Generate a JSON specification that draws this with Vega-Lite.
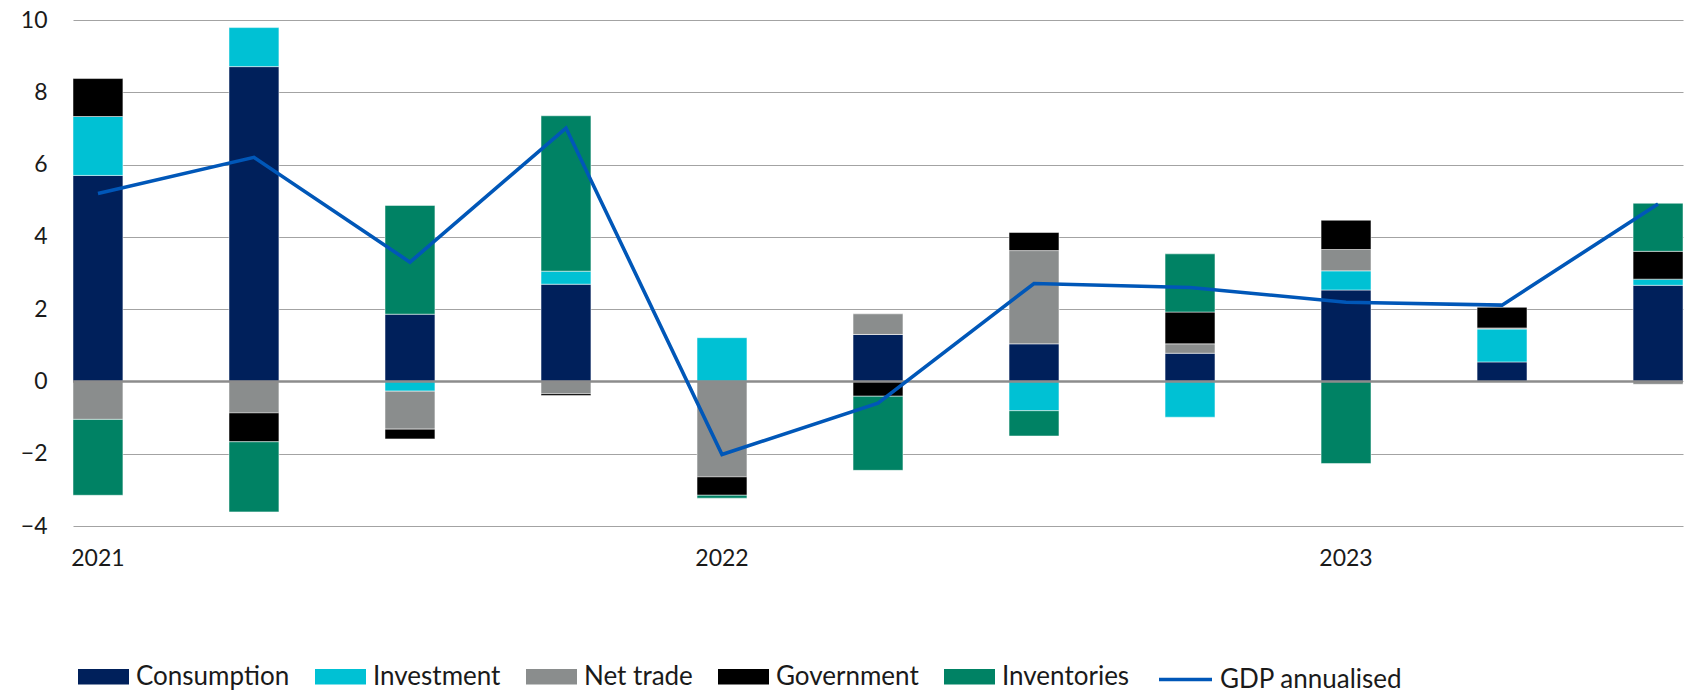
{
  "$schema": "https://vega.github.io/schema/vega-lite/v6.json",
  "autosize": {"type": "none"},
  "padding": {"left": 73, "top": 20, "right": 8, "bottom": 168},
  "width": 1610,
  "height": 506,
  "background": "white",
  "config": {
    "font": "Lato",
    "view": {"stroke": null},
    "axis": {"labelFont": "Lato", "labelColor": "#1a1a1a", "labelFontSize": 23},
    "legend": {"labelFont": "Lato", "labelColor": "#1a1a1a", "labelFontSize": 26}
  },
  "datasets": {
    "parts": [
      {"q": "2021 Q1", "component": "Consumption", "ord": 1, "value": 5.70},
      {"q": "2021 Q1", "component": "Investment", "ord": 2, "value": 1.63},
      {"q": "2021 Q1", "component": "Net trade", "ord": 3, "value": -1.05},
      {"q": "2021 Q1", "component": "Government", "ord": 4, "value": 1.05},
      {"q": "2021 Q1", "component": "Inventories", "ord": 5, "value": -2.10},
      {"q": "2021 Q2", "component": "Consumption", "ord": 1, "value": 8.71},
      {"q": "2021 Q2", "component": "Investment", "ord": 2, "value": 1.08},
      {"q": "2021 Q2", "component": "Net trade", "ord": 3, "value": -0.87},
      {"q": "2021 Q2", "component": "Government", "ord": 4, "value": -0.80},
      {"q": "2021 Q2", "component": "Inventories", "ord": 5, "value": -1.94},
      {"q": "2021 Q3", "component": "Consumption", "ord": 1, "value": 1.86},
      {"q": "2021 Q3", "component": "Investment", "ord": 2, "value": -0.27},
      {"q": "2021 Q3", "component": "Net trade", "ord": 3, "value": -1.05},
      {"q": "2021 Q3", "component": "Government", "ord": 4, "value": -0.27},
      {"q": "2021 Q3", "component": "Inventories", "ord": 5, "value": 3.01},
      {"q": "2021 Q4", "component": "Consumption", "ord": 1, "value": 2.69},
      {"q": "2021 Q4", "component": "Investment", "ord": 2, "value": 0.36},
      {"q": "2021 Q4", "component": "Net trade", "ord": 3, "value": -0.34},
      {"q": "2021 Q4", "component": "Government", "ord": 4, "value": -0.05},
      {"q": "2021 Q4", "component": "Inventories", "ord": 5, "value": 4.30},
      {"q": "2022 Q1", "component": "Consumption", "ord": 1, "value": 0.0},
      {"q": "2022 Q1", "component": "Investment", "ord": 2, "value": 1.21},
      {"q": "2022 Q1", "component": "Net trade", "ord": 3, "value": -2.64},
      {"q": "2022 Q1", "component": "Government", "ord": 4, "value": -0.51},
      {"q": "2022 Q1", "component": "Inventories", "ord": 5, "value": -0.08},
      {"q": "2022 Q2", "component": "Consumption", "ord": 1, "value": 1.30},
      {"q": "2022 Q2", "component": "Investment", "ord": 2, "value": 0.0},
      {"q": "2022 Q2", "component": "Net trade", "ord": 3, "value": 0.57},
      {"q": "2022 Q2", "component": "Government", "ord": 4, "value": -0.41},
      {"q": "2022 Q2", "component": "Inventories", "ord": 5, "value": -2.05},
      {"q": "2022 Q3", "component": "Consumption", "ord": 1, "value": 1.04},
      {"q": "2022 Q3", "component": "Investment", "ord": 2, "value": -0.81},
      {"q": "2022 Q3", "component": "Net trade", "ord": 3, "value": 2.58},
      {"q": "2022 Q3", "component": "Government", "ord": 4, "value": 0.50},
      {"q": "2022 Q3", "component": "Inventories", "ord": 5, "value": -0.70},
      {"q": "2022 Q4", "component": "Consumption", "ord": 1, "value": 0.78},
      {"q": "2022 Q4", "component": "Investment", "ord": 2, "value": -0.99},
      {"q": "2022 Q4", "component": "Net trade", "ord": 3, "value": 0.26},
      {"q": "2022 Q4", "component": "Government", "ord": 4, "value": 0.88},
      {"q": "2022 Q4", "component": "Inventories", "ord": 5, "value": 1.61},
      {"q": "2023 Q1", "component": "Consumption", "ord": 1, "value": 2.53},
      {"q": "2023 Q1", "component": "Investment", "ord": 2, "value": 0.53},
      {"q": "2023 Q1", "component": "Net trade", "ord": 3, "value": 0.59},
      {"q": "2023 Q1", "component": "Government", "ord": 4, "value": 0.81},
      {"q": "2023 Q1", "component": "Inventories", "ord": 5, "value": -2.27},
      {"q": "2023 Q2", "component": "Consumption", "ord": 1, "value": 0.54},
      {"q": "2023 Q2", "component": "Investment", "ord": 2, "value": 0.91},
      {"q": "2023 Q2", "component": "Net trade", "ord": 3, "value": 0.03},
      {"q": "2023 Q2", "component": "Government", "ord": 4, "value": 0.58},
      {"q": "2023 Q2", "component": "Inventories", "ord": 5, "value": 0.0},
      {"q": "2023 Q3", "component": "Consumption", "ord": 1, "value": 2.66},
      {"q": "2023 Q3", "component": "Investment", "ord": 2, "value": 0.17},
      {"q": "2023 Q3", "component": "Net trade", "ord": 3, "value": -0.08},
      {"q": "2023 Q3", "component": "Government", "ord": 4, "value": 0.77},
      {"q": "2023 Q3", "component": "Inventories", "ord": 5, "value": 1.33}
    ],
    "gdp": [
      {"q": "2021 Q1", "gdp": 5.20},
      {"q": "2021 Q2", "gdp": 6.20},
      {"q": "2021 Q3", "gdp": 3.30},
      {"q": "2021 Q4", "gdp": 7.01},
      {"q": "2022 Q1", "gdp": -2.02},
      {"q": "2022 Q2", "gdp": -0.60},
      {"q": "2022 Q3", "gdp": 2.71},
      {"q": "2022 Q4", "gdp": 2.60},
      {"q": "2023 Q1", "gdp": 2.19},
      {"q": "2023 Q2", "gdp": 2.11},
      {"q": "2023 Q3", "gdp": 4.91}
    ]
  },
  "layer": [
    {
      "data": {"name": "parts"},
      "mark": {"type": "bar", "stroke": "#ffffff", "strokeWidth": 0.7, "strokeOpacity": 0.7},
      "encoding": {
        "x": {
          "field": "q", "type": "ordinal", "sort": null,
          "scale": {"paddingInner": 0.68, "paddingOuter": 0},
          "axis": {
            "title": null, "domain": false, "ticks": false, "grid": false,
            "labelAngle": 0, "labelPadding": 21,
            "labelExpr": "slice(datum.label, 5) == 'Q1' ? slice(datum.label, 0, 4) : ''"
          }
        },
        "y": {
          "field": "value", "type": "quantitative", "stack": "zero",
          "scale": {"domain": [-4, 10], "nice": false, "zero": false},
          "axis": {
            "title": null, "values": [-4, -2, 0, 2, 4, 6, 8, 10],
            "domain": false, "ticks": false, "labelPadding": 26,
            "grid": true, "gridColor": "#a3a3a3", "gridWidth": 1.2
          }
        },
        "color": {
          "field": "component", "type": "nominal",
          "scale": {
            "domain": ["Consumption", "Investment", "Net trade", "Government", "Inventories"],
            "range": ["#00205b", "#00c1d4", "#8a8d8d", "#000000", "#008264"]
          },
          "legend": {
            "title": null, "orient": "none", "direction": "horizontal",
            "legendX": 5, "legendY": 631,
            "symbolType": "M-1,-0.3H1V0.3H-1Z", "symbolSize": 2601,
            "symbolStrokeWidth": 0, "symbolOpacity": 1,
            "labelOffset": 7, "columnPadding": 25, "labelLimit": 400
          }
        },
        "order": {"field": "ord", "type": "quantitative"}
      }
    },
    {
      "data": {"values": [{}]},
      "mark": {"type": "rule", "color": "#8c8c8c", "strokeWidth": 2.5},
      "encoding": {"y": {"datum": 0}}
    },
    {
      "data": {"name": "gdp"},
      "mark": {"type": "line", "strokeWidth": 3.6, "strokeJoin": "miter"},
      "encoding": {
        "x": {"field": "q", "type": "ordinal", "sort": null},
        "y": {"field": "gdp", "type": "quantitative"},
        "stroke": {
          "datum": "GDP annualised",
          "scale": {"domain": ["GDP annualised"], "range": ["#0057b8"]},
          "legend": {
            "title": null, "orient": "none", "direction": "horizontal",
            "legendX": 1084, "legendY": 631,
            "symbolType": "stroke", "symbolSize": 2809, "symbolStrokeWidth": 3.5,
            "labelOffset": 6, "labelLimit": 400
          }
        }
      }
    }
  ]
}
